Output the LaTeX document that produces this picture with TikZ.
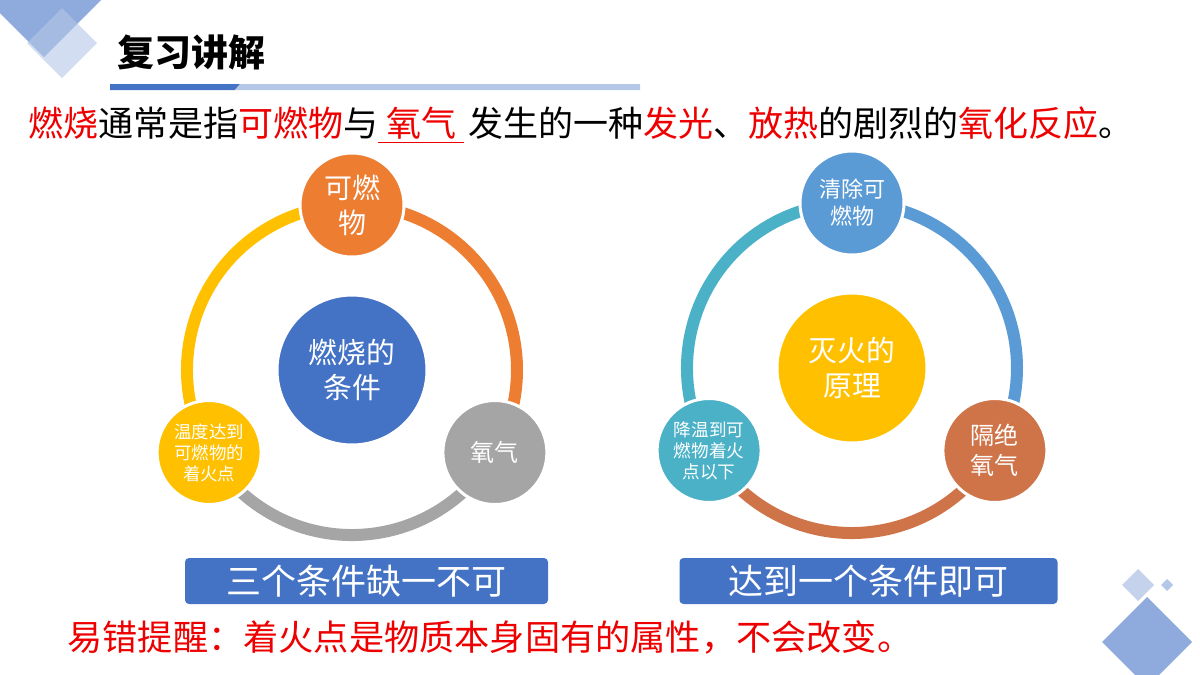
\documentclass[tikz,border=0pt]{standalone}
\usepackage{fontspec}
\setmainfont{Noto Sans CJK SC}
\usepackage{tikz}
\usepackage{xcolor}
\usetikzlibrary{positioning,calc}
\definecolor{accblue}{HTML}{4472C4}
\definecolor{accorange}{HTML}{ED7D31}
\definecolor{accgray}{HTML}{A5A5A5}
\definecolor{accgold}{HTML}{FFC000}
\definecolor{acclblue}{HTML}{5B9BD5}
\definecolor{accteal}{HTML}{4BB1C7}
\definecolor{accbrown}{HTML}{CF7449}
\definecolor{cred}{HTML}{EE0000}
\definecolor{decodark}{HTML}{8FAADC}
\definecolor{decolight}{HTML}{B4C7E7}
\definecolor{decopale}{HTML}{C5D2EC}
\pgfdeclarelayer{bg}
\pgfsetlayers{bg,main}
\newcommand{\fsz}[2]{\fontsize{#1}{#2}\selectfont}

\begin{document}
\begin{tikzpicture}[
      x=0.5pt, y=-0.5pt,
      hub/.style={circle, draw=white, line width=1.5pt, minimum size=75pt, inner sep=0pt, align=center, text=white, font=\fsz{14.4pt}{17.5pt}},
      sat/.style={circle, draw=white, line width=1.5pt, minimum size=52pt, inner sep=0pt, align=center, text=white},
      ring/.style={line width=6pt},
      tag/.style={rectangle, rounded corners=2pt, fill=accblue, minimum height=23pt, inner sep=0pt, text=white, font=\fsz{17.5pt}{20pt}}
  ]
    \useasboundingbox (0,0) rectangle (1200,675);
    \clip (0,0) rectangle (1200,675);
    \fill[decodark] (44,-57) -- (101,0) -- (44,57) -- (-13,0) -- cycle;
    \fill[decolight, opacity=.6] (62,8) -- (97,43) -- (62,78) -- (27,43) -- cycle;
    \fill[accblue] (110,84) -- (240,84) -- (235,90) -- (110,90) -- cycle;
    \fill[decolight] (240,84) -- (640,84) -- (640,90) -- (235,90) -- cycle;
    \fill[decodark] (1147,597) -- (1192,642) -- (1147,687) -- (1102,642) -- cycle;
    \fill[decopale] (1138,569) -- (1154,585) -- (1138,601) -- (1122,585) -- cycle;
    \fill[decolight] (1167,579) -- (1173,585) -- (1167,591) -- (1161,585) -- cycle;

    \node[anchor=west, inner sep=0pt, font=\bfseries\fsz{18.5pt}{20pt}] (title) at (117,52) {复习讲解};
    \node[anchor=west, inner sep=0pt, font=\fsz{17.5pt}{20pt}] (intro) at (28,125) {\textcolor{cred}{燃烧}通常是指\textcolor{cred}{可燃物}与\textcolor{cred}{\underline{\hspace{4pt}氧气\hspace{4pt}}}\hspace{2pt}发生的一种\textcolor{cred}{发光}、\textcolor{cred}{放热}的剧烈的\textcolor{cred}{氧化反应}。};

    \coordinate (burn) at (352,370);
    \coordinate (quench) at (852,368);

    \node[hub, fill=accblue] (burnhub) at (burn) {燃烧的\\条件};
    \node[sat, fill=accorange, font=\fsz{14pt}{17.5pt}] (fuel) at ($(burn)+(270:165)$) {可燃\\物};
    \node[sat, fill=accgray, font=\fsz{12pt}{14pt}] (oxy) at ($(burn)+(30:165)$) {氧气};
    \node[sat, fill=accgold, font=\fsz{8.7pt}{10.5pt}] (heat) at ($(burn)+(150:165)$) {温度达到\\可燃物的\\着火点};

    \node[hub, fill=accgold] (quenchhub) at (quench) {灭火的\\原理};
    \node[sat, fill=acclblue, font=\fsz{11pt}{13.5pt}] (remove) at ($(quench)+(270:165)$) {清除可\\燃物};
    \node[sat, fill=accbrown, font=\fsz{12pt}{15pt}] (isolate) at ($(quench)+(30:165)$) {隔绝\\氧气};
    \node[sat, fill=accteal, font=\fsz{8.8pt}{10.5pt}] (cool) at ($(quench)+(150:165)$) {降温到可\\燃物着火\\点以下};

    \begin{pgfonlayer}{bg}
    \draw[ring, accorange] (fuel.center) arc[start angle=270, end angle=390, radius=165];
    \draw[ring, accgray] (oxy.center) arc[start angle=30, end angle=150, radius=165];
    \draw[ring, accgold] (heat.center) arc[start angle=150, end angle=270, radius=165];
    \draw[ring, acclblue] (remove.center) arc[start angle=270, end angle=390, radius=165];
    \draw[ring, accbrown] (isolate.center) arc[start angle=30, end angle=150, radius=165];
    \draw[ring, accteal] (cool.center) arc[start angle=150, end angle=270, radius=165];
    \end{pgfonlayer}

    \node[tag, minimum width=181.5pt] (needall) at (366.5,581) {三个条件缺一不可};
    \node[tag, minimum width=189pt] (needone) at (868.5,581) {达到一个条件即可};

    \node[anchor=west, inner sep=0pt, text=cred, font=\fsz{17.6pt}{20pt}] (warn) at (67,637) {易错提醒：着火点是物质本身固有的属性，不会改变。};
  \end{tikzpicture}
\end{document}
